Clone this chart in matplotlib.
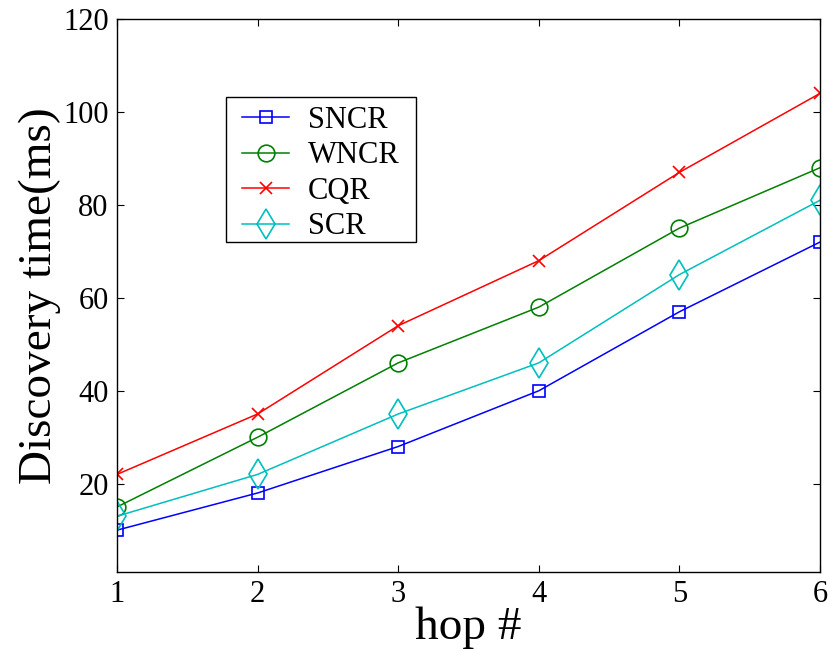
import matplotlib
matplotlib.use("Agg")
import matplotlib.pyplot as plt
from matplotlib.patches import Rectangle

hops = [1, 2, 3, 4, 5, 6]
sncr = [10, 18, 28, 40, 57, 72]
wncr = [15, 30, 46, 58, 75, 88]
cqr = [22, 35, 54, 68, 87, 104]
scr = [13, 22, 35, 46, 65, 81]
yticks = [20, 40, 60, 80, 100, 120]

plt.rcParams['font.family'] = ['Liberation Serif', 'DejaVu Serif']

W, H = 830, 651
fig = plt.figure(figsize=(W / 100, H / 100), dpi=100)
ax = fig.add_axes([0.141, 0.1214, 0.847, 0.8494])

lw = 1.1
ax.plot(hops, sncr, color='#0000ff', marker='s', ms=9, mfc='none', mew=1.2, lw=lw, label='SNCR')
ax.plot(hops, wncr, color='#008000', marker='o', ms=12, mfc='none', mew=1.2, lw=lw, label='WNCR')
ax.plot(hops, cqr, color='#ff0000', marker='x', ms=9, mew=1.2, lw=lw, label='CQR')
ax.plot(hops, scr, color='#00bfbf', marker='d', ms=15, mfc='none', mew=1.2, lw=lw, label='SCR')

ax.set_xlim(1, 6)
ax.set_ylim(1, 120)
ax.set_xticks(hops)
ax.set_yticks(yticks)
ax.tick_params(direction='in', length=5, labelsize=22, pad=6, top=True, right=True)
for s in ax.spines.values():
    s.set_linewidth(1.0)

ax.set_xlabel('hop #', fontsize=34)
ax.xaxis.set_label_coords(0.5, -0.062)
ax.set_ylabel('Discovery time(ms)', fontsize=34)
ax.yaxis.set_label_coords(-0.08, 0.5)

# legend frame drawn separately to match the reference box
fig.patches.append(Rectangle((226 / W, 1 - 242 / H), 190 / W, 145 / H,
                             transform=fig.transFigure, facecolor='white',
                             edgecolor='black', linewidth=1.0, zorder=5))
leg = fig.legend(loc='upper left', bbox_to_anchor=(242 / W, 1 - 106 / H),
                 bbox_transform=fig.transFigure, borderaxespad=0, borderpad=0,
                 fontsize=22, frameon=False,
                 handlelength=1.55, labelspacing=0.21, handletextpad=0.6)
leg.set_zorder(6)

fig.savefig('out.png', dpi=100)
